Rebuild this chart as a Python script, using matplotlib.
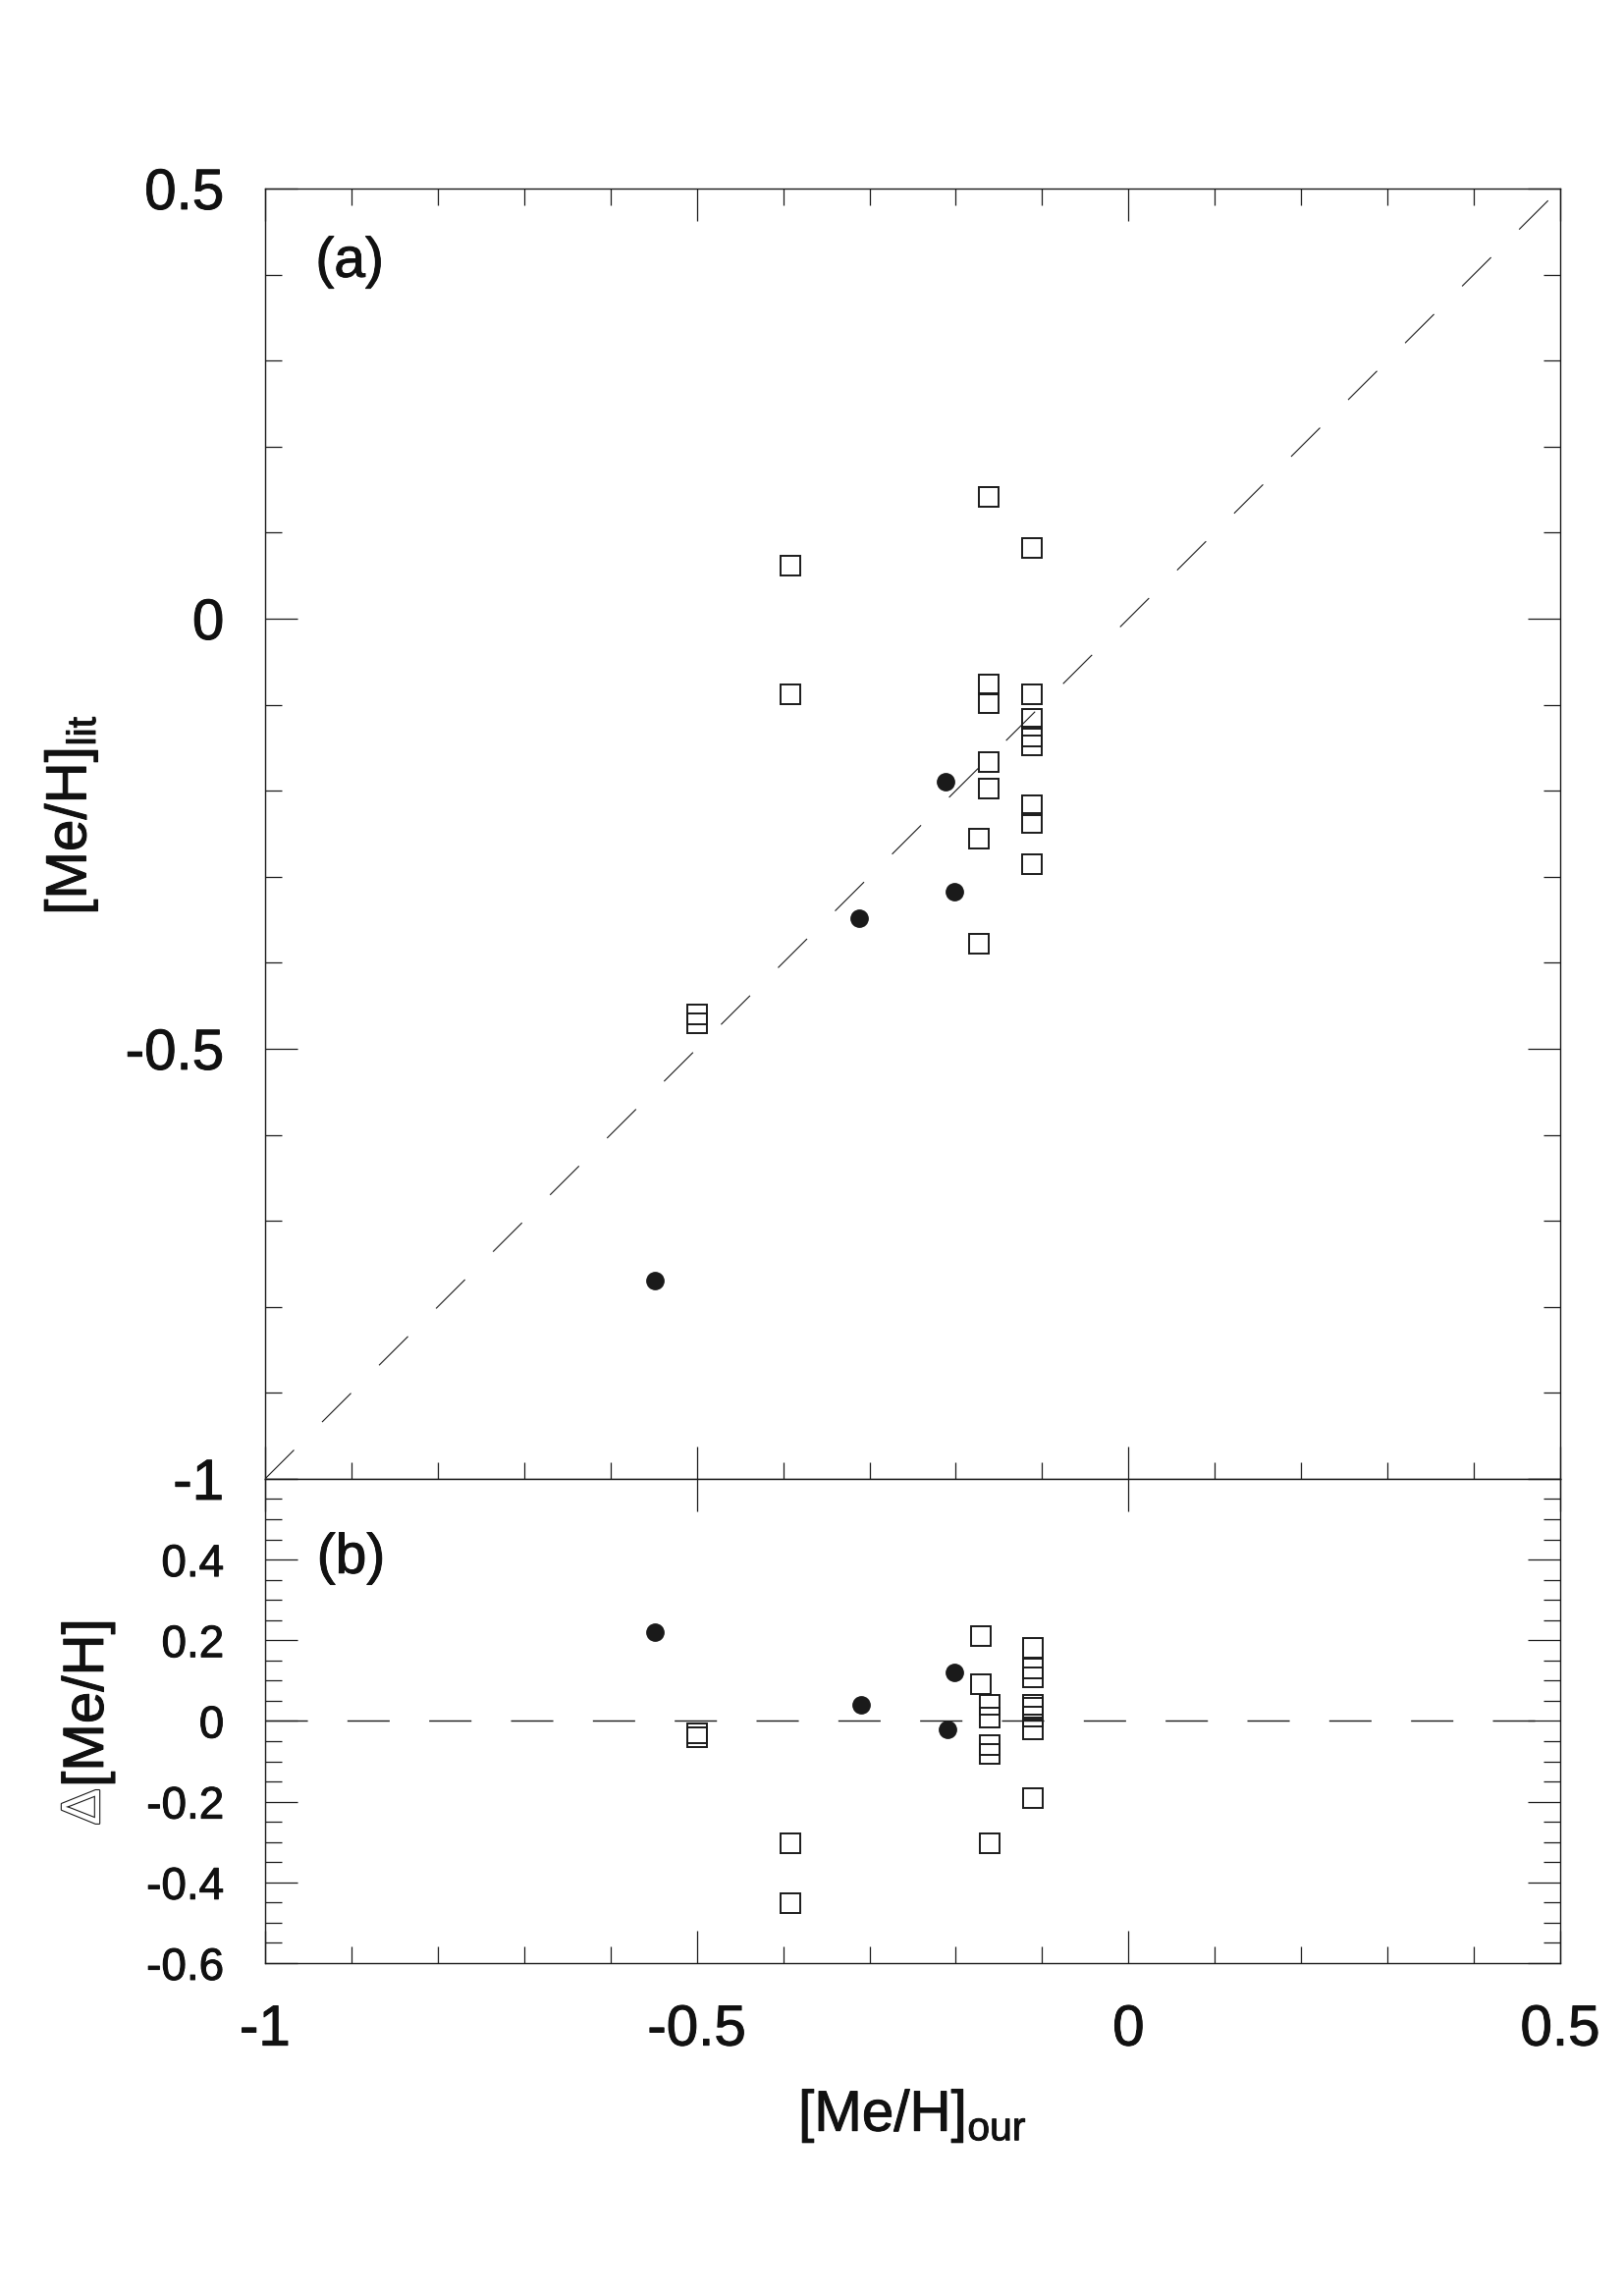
"""
[Me/H] 비교 그림 — 문헌값 vs 우리 값, 그리고 차이
"""

import matplotlib
matplotlib.use("Agg")
import matplotlib.pyplot as plt
import matplotlib.patheffects as pe
from matplotlib.ticker import MultipleLocator, FuncFormatter

# ──────────────────────────────────────────────────────────────
# 데이터
# ──────────────────────────────────────────────────────────────

# (a) 위 패널: [Me/H]_our vs [Me/H]_lit
circ_our = [-0.549, -0.312, -0.212, -0.202]
circ_lit = [-0.770, -0.348, -0.190, -0.318]

sq_our = [-0.500, -0.500,
          -0.391, -0.391,
          -0.162, -0.162, -0.162, -0.162, -0.162,
          -0.173, -0.173,
          -0.112, -0.112, -0.112, -0.112, -0.112, -0.112, -0.112, -0.112]
sq_lit = [-0.460, -0.470,
          0.062, -0.088,
          0.142, -0.077, -0.098, -0.167, -0.197,
          -0.256, -0.378,
          0.082, -0.088, -0.117, -0.137, -0.147, -0.217, -0.237, -0.286]

# (b) 아래 패널: Δ[Me/H]
circ_our_b = [-0.549, -0.310, -0.202, -0.210]
circ_delta = [0.220, 0.041, 0.120, -0.020]

sq_our_b = [-0.500, -0.500,
            -0.391, -0.391,
            -0.171, -0.171,
            -0.161, -0.161, -0.161, -0.161, -0.161,
            -0.111, -0.111, -0.111, -0.111, -0.111, -0.111, -0.111, -0.111]
sq_delta = [-0.031, -0.040,
            -0.302, -0.452,
            0.210, 0.090,
            0.040, 0.009, -0.060, -0.081, -0.302,
            0.181, 0.131, 0.109, 0.041, 0.032, 0.011, -0.021, -0.191]

INK = "#1a1a1a"
TXT = "#111111"

plt.rcParams["font.family"] = ["Liberation Sans", "DejaVu Sans"]
plt.rcParams["mathtext.fontset"] = "custom"
plt.rcParams["mathtext.rm"] = "Liberation Sans"
plt.rcParams["axes.unicode_minus"] = False
plt.rcParams["lines.scale_dashes"] = False
plt.rcParams["axes.linewidth"] = 1.0
plt.rcParams["axes.edgecolor"] = INK
plt.rcParams["text.color"] = TXT

# 글자를 조금 두껍게 (원본 Arial 느낌)
HEAVY = [pe.withStroke(linewidth=0.7, foreground=TXT)]


def _fmt(v, pos):
    v = round(v, 2)
    if abs(v) < 1e-9:
        return "0"
    return f"{v:g}"


def _fmt_b(v, pos):
    v = round(v, 2)
    if v > 0.5:
        return ""
    return _fmt(v, pos)


def _ticks(ax, big=24, small=12):
    ax.tick_params(which="both", direction="in", width=0.9, colors=INK,
                   labelcolor=TXT)
    ax.tick_params(which="major", length=big)
    ax.tick_params(which="minor", length=small)


def _heavy_labels(ax):
    for lab in ax.get_xticklabels() + ax.get_yticklabels():
        lab.set_path_effects(HEAVY)


fig = plt.figure(figsize=(16.53, 23.38), dpi=100)
ax1 = fig.add_axes([0.1633, 0.3559, 0.7980, 0.5620])
ax2 = fig.add_axes([0.1633, 0.1450, 0.7980, 0.2109])

# ── (a) ─────────────────────────────────────────────────────
ax1.axline((0, 0), slope=1, color=INK, lw=0.8, dashes=(30, 29))
ax1.plot(sq_our, sq_lit, ls="none", marker="s", ms=14, mfc="none",
         mec=INK, mew=1.4)
ax1.plot(circ_our, circ_lit, ls="none", marker="o", ms=12.5, color=INK)
ax1.set_xlim(-1, 0.5)
ax1.set_ylim(-1, 0.5)
ax1.xaxis.set_major_locator(MultipleLocator(0.5))
ax1.xaxis.set_minor_locator(MultipleLocator(0.1))
ax1.yaxis.set_major_locator(MultipleLocator(0.5))
ax1.yaxis.set_minor_locator(MultipleLocator(0.1))
_ticks(ax1)
ax1.tick_params(which="both", top=True, right=True, labelbottom=False)
ax1.tick_params(axis="y", labelsize=42, pad=30)
ax1.yaxis.set_major_formatter(FuncFormatter(_fmt))
ax1.text(0.039, 0.943, "(a)", transform=ax1.transAxes, fontsize=41,
         ha="left", va="center", path_effects=HEAVY)

# ── (b) ─────────────────────────────────────────────────────
ax2.axhline(0, color=INK, lw=1.0, dashes=(31, 29))
ax2.plot(sq_our_b, sq_delta, ls="none", marker="s", ms=14, mfc="none",
         mec=INK, mew=1.4)
ax2.plot(circ_our_b, circ_delta, ls="none", marker="o", ms=12.5, color=INK)
ax2.set_xlim(-1, 0.5)
ax2.set_ylim(-0.6, 0.6)
ax2.xaxis.set_major_locator(MultipleLocator(0.5))
ax2.xaxis.set_minor_locator(MultipleLocator(0.1))
ax2.yaxis.set_major_locator(MultipleLocator(0.2))
ax2.yaxis.set_minor_locator(MultipleLocator(0.05))
_ticks(ax2)
ax2.tick_params(which="both", right=True)
ax2.tick_params(which="major", top=True)
ax2.tick_params(axis="x", which="minor", top=False)
ax2.tick_params(axis="x", labelsize=42, pad=30)
ax2.tick_params(axis="y", labelsize=33, pad=30)
ax2.xaxis.set_major_formatter(FuncFormatter(_fmt))
ax2.yaxis.set_major_formatter(FuncFormatter(_fmt_b))
ax2.text(0.040, 0.836, "(b)", transform=ax2.transAxes, fontsize=41,
         ha="left", va="center", path_effects=HEAVY)

fig.canvas.draw()
_heavy_labels(ax1)
_heavy_labels(ax2)

# ── 축 제목 ──────────────────────────────────────────────────
fig.text(0.0440, 0.645, r"[Me/H]$_{\mathrm{lit}}$", rotation=90, fontsize=42,
         ha="center", va="center", path_effects=HEAVY)
fig.text(0.0544, 1 - 1734 / 2338, "[Me/H]", rotation=90, fontsize=42,
         ha="center", va="center", path_effects=HEAVY)
fig.text(0.0527, 1 - 1840 / 2338, "Δ", rotation=90, fontsize=40,
         ha="center", va="center", color="white",
         path_effects=[pe.Stroke(linewidth=1.6, foreground=INK), pe.Normal()])
fig.text(0.5623, 1 - 2155 / 2338, r"[Me/H]$_{\mathrm{our}}$", fontsize=42,
         ha="center", va="center", path_effects=HEAVY)

fig.savefig("out.png", dpi=100)
plt.close(fig)
